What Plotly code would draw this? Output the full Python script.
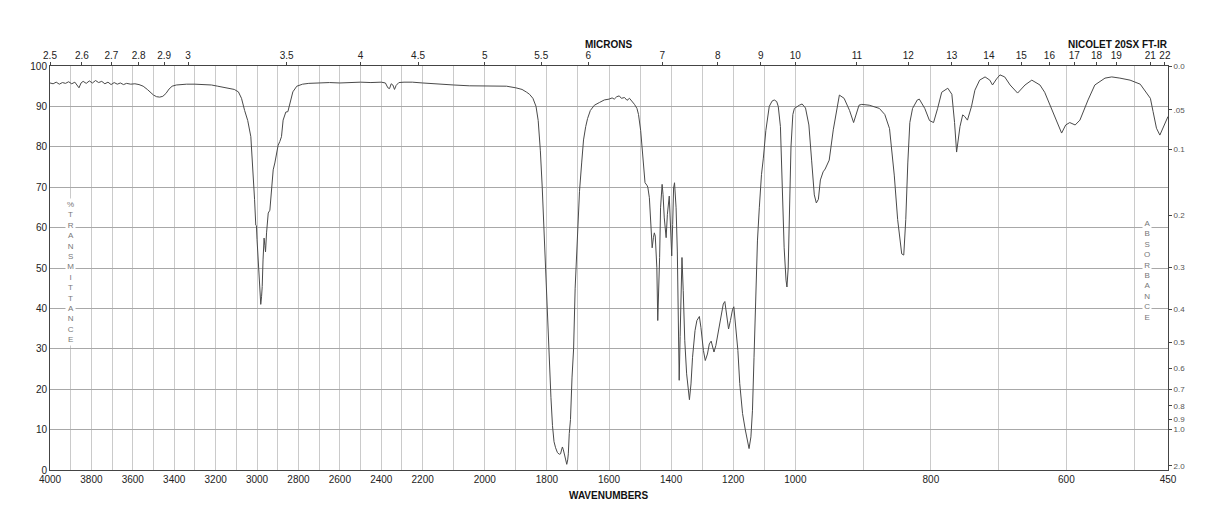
import plotly.graph_objects as go

# ---------------- data ----------------
wavenumber = [
    4000, 3985, 3970, 3955, 3940, 3925, 3910, 3895, 3880, 3870, 3860, 3850, 3840, 3825, 3810,
    3795, 3780, 3765, 3750, 3735, 3720, 3705, 3690, 3675, 3660, 3645, 3630, 3610, 3590, 3570,
    3550, 3530, 3515, 3500, 3485, 3470, 3455, 3440, 3425, 3410, 3390, 3370, 3340, 3300, 3260,
    3220, 3190, 3160, 3130, 3110, 3090, 3075, 3060, 3045, 3030, 3020, 3012, 3006, 3003, 3000,
    2994, 2989, 2985, 2982, 2978, 2975, 2971, 2966, 2962, 2959, 2954, 2946, 2938, 2929, 2922,
    2914, 2906, 2898, 2890, 2882, 2874, 2861, 2851, 2842, 2827, 2808, 2780, 2750, 2700, 2650,
    2600, 2550, 2500, 2450, 2400, 2380, 2368, 2360, 2352, 2344, 2336, 2328, 2315, 2290, 2250,
    2200, 2150, 2100, 2050, 2000, 1960, 1930, 1900, 1880, 1865, 1856, 1845, 1835, 1828, 1821,
    1815, 1811, 1806, 1801, 1796, 1792, 1787, 1782, 1777, 1772, 1766, 1760, 1756, 1752, 1750,
    1747, 1743, 1739, 1736, 1733, 1731, 1728, 1724, 1719, 1714, 1709, 1705, 1700, 1695, 1688,
    1682, 1675, 1669, 1660, 1647, 1630, 1615, 1600, 1590, 1583, 1575, 1567, 1560, 1550, 1542,
    1534, 1526, 1518, 1510, 1505, 1498, 1491, 1489, 1484, 1478, 1475, 1470, 1465, 1461, 1457,
    1454, 1451, 1446, 1443, 1440, 1437, 1434, 1429, 1426, 1422, 1416, 1412, 1406, 1402, 1398,
    1395, 1392, 1389, 1384, 1380, 1377, 1374, 1371, 1368, 1365, 1361, 1356, 1350, 1345, 1341,
    1336, 1331, 1323, 1317, 1309, 1304, 1296, 1290, 1283, 1277, 1271, 1266, 1262, 1256, 1247,
    1240, 1232, 1227, 1222, 1215, 1209, 1202, 1198, 1192, 1185, 1179, 1170, 1161, 1154, 1149,
    1143, 1138, 1133, 1127, 1122, 1116, 1109, 1103, 1095, 1084, 1075, 1068, 1060, 1055, 1048,
    1042, 1036, 1030, 1027, 1023, 1019, 1014, 1008, 1003, 994, 990, 985, 980, 976, 972,
    969, 966, 963, 959, 956, 950, 944, 938, 935, 928, 920, 914, 910, 906, 902,
    891, 876, 868, 861, 854, 849, 846, 843, 840, 837, 834, 831, 827, 820, 817,
    809, 802, 796, 790, 784, 775, 769, 765, 762, 757, 753, 750, 746, 740, 735,
    728, 720, 713, 709, 703, 698, 691, 683, 672, 661, 651, 639, 632, 621, 612,
    607, 601, 595, 587, 580, 568, 558, 543, 533, 521, 506, 491, 484, 476, 472,
    467, 462, 457, 450,
]
transmittance = [
    95.8, 95.6, 96.0, 95.5, 95.9, 95.7, 96.1, 95.6, 96.0, 95.3, 94.6, 95.8, 96.2, 95.7, 96.3,
    95.8, 96.4, 95.9, 96.2, 95.6, 96.0, 95.4, 95.9, 95.5, 95.8, 95.4, 95.7, 95.5, 95.6, 95.4,
    95.0, 94.2, 93.5, 92.8, 92.4, 92.3, 92.5, 93.2, 94.3, 95.0, 95.3, 95.4, 95.5, 95.5, 95.4,
    95.3, 95.0, 94.7, 94.4, 94.2, 93.6, 92.0, 89.0, 86.5, 82.5, 75.0, 67.0, 60.6, 60.5, 57.0,
    52.0, 47.0, 43.5, 41.0, 43.0, 45.4, 52.0, 57.4, 55.5, 54.0, 58.7, 63.6, 64.3, 70.1, 74.3,
    76.0, 78.5, 80.4, 81.3, 82.5, 86.6, 88.6, 88.7, 90.3, 93.6, 95.0, 95.5, 95.7, 95.8, 95.9,
    95.8, 95.9, 96.0, 95.9, 96.0, 95.8, 94.6, 94.4, 95.6, 95.3, 94.2, 95.2, 95.9, 96.0, 96.0,
    95.8, 95.5, 95.3, 95.1, 95.0, 94.9, 95.0, 94.6, 94.2, 93.5, 93.0, 92.0, 90.0, 86.5, 79.0,
    70.0, 62.0, 52.0, 42.0, 33.0, 26.0, 18.0, 11.0, 7.0, 5.5, 4.3, 3.9, 4.0, 5.2, 5.7,
    5.0, 3.5, 1.8, 1.4, 2.5, 4.0, 9.0, 12.5, 23.0, 30.0, 45.0, 52.0, 62.0, 69.0, 76.0,
    81.7, 85.0, 87.0, 89.0, 90.3, 91.0, 91.6, 91.8, 92.1, 91.8, 92.4, 92.6, 92.0, 92.2, 91.5,
    92.0, 91.3, 90.5, 89.5, 88.0, 84.0, 77.0, 73.9, 71.1, 70.5, 70.0, 67.4, 60.8, 55.0, 57.5,
    58.7, 57.9, 50.1, 37.0, 42.7, 52.6, 64.9, 70.7, 68.2, 62.4, 57.5, 63.3, 67.8, 60.8, 53.0,
    60.8, 69.8, 71.1, 64.9, 54.2, 40.3, 22.2, 33.0, 44.4, 52.6, 44.4, 32.0, 23.8, 19.7, 17.4,
    21.3, 27.9, 34.5, 37.0, 38.0, 35.3, 29.6, 27.1, 28.7, 31.2, 31.9, 30.0, 29.2, 30.8, 34.5,
    37.8, 41.1, 41.7, 38.6, 34.9, 37.0, 39.8, 40.4, 36.1, 29.6, 21.4, 14.0, 9.9, 6.6, 5.3,
    8.2, 14.8, 27.9, 44.4, 56.7, 64.9, 73.1, 77.2, 84.0, 90.0, 91.3, 91.6, 91.2, 90.0, 85.0,
    70.0, 55.0, 47.0, 45.3, 50.0, 65.0, 80.0, 88.0, 89.5, 90.3, 90.6, 89.6, 85.4, 76.7, 68.1,
    66.1, 67.0, 71.8, 73.8, 74.5, 76.7, 84.2, 90.3, 92.8, 92.0, 89.0, 86.0, 88.5, 90.3, 90.5,
    90.3, 89.5, 88.0, 84.5, 73.0, 62.0, 57.0, 53.5, 53.2, 62.0, 76.0, 86.0, 89.5, 91.6, 91.8,
    89.5, 86.5, 86.0, 89.5, 93.5, 94.5, 93.0, 86.0, 78.7, 85.0, 87.9, 87.5, 86.6, 90.0, 94.0,
    96.5, 97.3, 96.5, 95.3, 96.8, 97.8, 97.3, 95.3, 93.3, 95.3, 96.5, 95.3, 93.5, 89.0, 85.4,
    83.4, 85.4, 86.0, 85.4, 86.6, 91.6, 95.3, 97.0, 97.3, 97.0, 96.5, 95.5, 94.0, 92.0, 88.7,
    84.6, 82.9, 85.0, 87.5,
]

wavenumber_labels = [4000, 3800, 3600, 3400, 3200, 3000, 2800, 2600, 2400, 2200, 2000,
                     1800, 1600, 1400, 1200, 1000, 800, 600, 450]
grid_wavenumbers = list(range(4000, 1000, -100)) + list(range(1000, 450, -100)) + [450]
micron_labels = [2.5, 2.6, 2.7, 2.8, 2.9, 3, 3.5, 4, 4.5, 5, 5.5, 6, 7, 8, 9, 10,
                 11, 12, 13, 14, 15, 16, 17, 18, 19, 21, 22]
absorbance_values = [0.0, 0.05, 0.1, 0.2, 0.3, 0.4, 0.5, 0.6, 0.7, 0.8, 0.9, 1.0, 2.0]
absorbance_text = ["0.0", ".05", "0.1", "0.2", "0.3", "0.4", "0.5", "0.6", "0.7",
                   "0.8", "0.9", "1.0", "2.0"]
transmittance_ticks = list(range(0, 101, 10))


# ---------- piecewise wavenumber scale (three equal-width segments) ----------
def to_u(wn):
    if wn >= 2200:
        return (4000 - wn) / 1800.0
    if wn >= 1000:
        return 1.0 + (2200 - wn) / 1200.0
    return 2.0 + (1000 - wn) / 550.0


u_values = [to_u(w) for w in wavenumber]
label_set = set(wavenumber_labels)
bottom_vals = [to_u(w) for w in grid_wavenumbers]
bottom_text = [str(w) if w in label_set else "" for w in grid_wavenumbers]
top_vals = [to_u(10000.0 / m) for m in micron_labels]
top_text = [("%g" % m) for m in micron_labels]
right_vals = [100 * 10 ** (-a) for a in absorbance_values]

FONT = "Liberation Sans, Arial, Helvetica, sans-serif"

fig = go.Figure()
fig.add_trace(go.Scatter(
    x=u_values, y=transmittance, mode="lines",
    line=dict(color="#4a4a4a", width=1), hoverinfo="skip", showlegend=False,
))
# transparent copies so that the micron (top) and absorbance (right) axes are drawn
fig.add_trace(go.Scatter(
    x=u_values, y=transmittance, mode="lines", xaxis="x2", yaxis="y",
    line=dict(color="rgba(0,0,0,0)", width=0), hoverinfo="skip", showlegend=False,
))
fig.add_trace(go.Scatter(
    x=u_values, y=transmittance, mode="lines", xaxis="x", yaxis="y2",
    line=dict(color="rgba(0,0,0,0)", width=0), hoverinfo="skip", showlegend=False,
))

fig.update_layout(
    width=1218, height=528,
    margin=dict(l=50, r=50, t=66, b=58),
    paper_bgcolor="white", plot_bgcolor="white",
    font=dict(family=FONT, size=10, color="#222"),
    showlegend=False,
    xaxis=dict(
        range=[0, 3], tickmode="array", tickvals=bottom_vals, ticktext=bottom_text,
        showgrid=True, gridcolor="#cacaca", gridwidth=1, zeroline=False,
        showline=True, linecolor="#444", linewidth=1, mirror=False,
        ticks="", tickfont=dict(size=10, color="#222"),
    ),
    xaxis2=dict(
        range=[0, 3], overlaying="x", side="top", anchor="y",
        tickmode="array", tickvals=top_vals, ticktext=top_text,
        showgrid=False, zeroline=False, showline=True, linecolor="#444", linewidth=1,
        ticks="outside", ticklen=3, tickcolor="#444", tickwidth=1,
        ticklabelstandoff=-1,
        tickfont=dict(size=10, color="#222"),
    ),
    yaxis=dict(
        range=[0, 100], tickmode="array", tickvals=transmittance_ticks,
        showgrid=True, gridcolor="#a8a8a8", gridwidth=1, zeroline=False,
        showline=True, linecolor="#444", linewidth=1, ticks="",
        tickfont=dict(size=10, color="#222"),
    ),
    yaxis2=dict(
        range=[0, 100], overlaying="y", side="right", anchor="x",
        tickmode="array", tickvals=right_vals, ticktext=absorbance_text,
        showgrid=False, zeroline=False, showline=True, linecolor="#444", linewidth=1,
        ticks="outside", ticklen=3, tickcolor="#444", tickwidth=1,
        tickfont=dict(size=8, color="#555"),
    ),
)

annotations = [
    dict(text="<b>MICRONS</b>", x=0.5, y=1.054, xref="paper", yref="paper",
         showarrow=False, font=dict(size=10, color="#111"), xanchor="center", yanchor="middle"),
    dict(text="<b>NICOLET 20SX FT-IR</b>", x=0.955, y=1.054, xref="paper", yref="paper",
         showarrow=False, font=dict(size=10, color="#111"), xanchor="center", yanchor="middle"),
    dict(text="<b>WAVENUMBERS</b>", x=0.5, y=-0.062, xref="paper", yref="paper",
         showarrow=False, font=dict(size=10, color="#111"), xanchor="center", yanchor="middle"),
    dict(text="<br>".join(list("%TRANSMITTANCE")), x=0.0179, y=0.491,
         xref="paper", yref="paper", showarrow=False, bgcolor="white", borderpad=1,
         font=dict(size=8, color="#777"), xanchor="center", yanchor="middle"),
    dict(text="<br>".join(list("ABSORBANCE")), x=0.981, y=0.4926,
         xref="paper", yref="paper", showarrow=False, bgcolor="white", borderpad=1,
         font=dict(size=8, color="#777"), xanchor="center", yanchor="middle"),
]
fig.update_layout(annotations=annotations)

fig.write_html("out.html")
